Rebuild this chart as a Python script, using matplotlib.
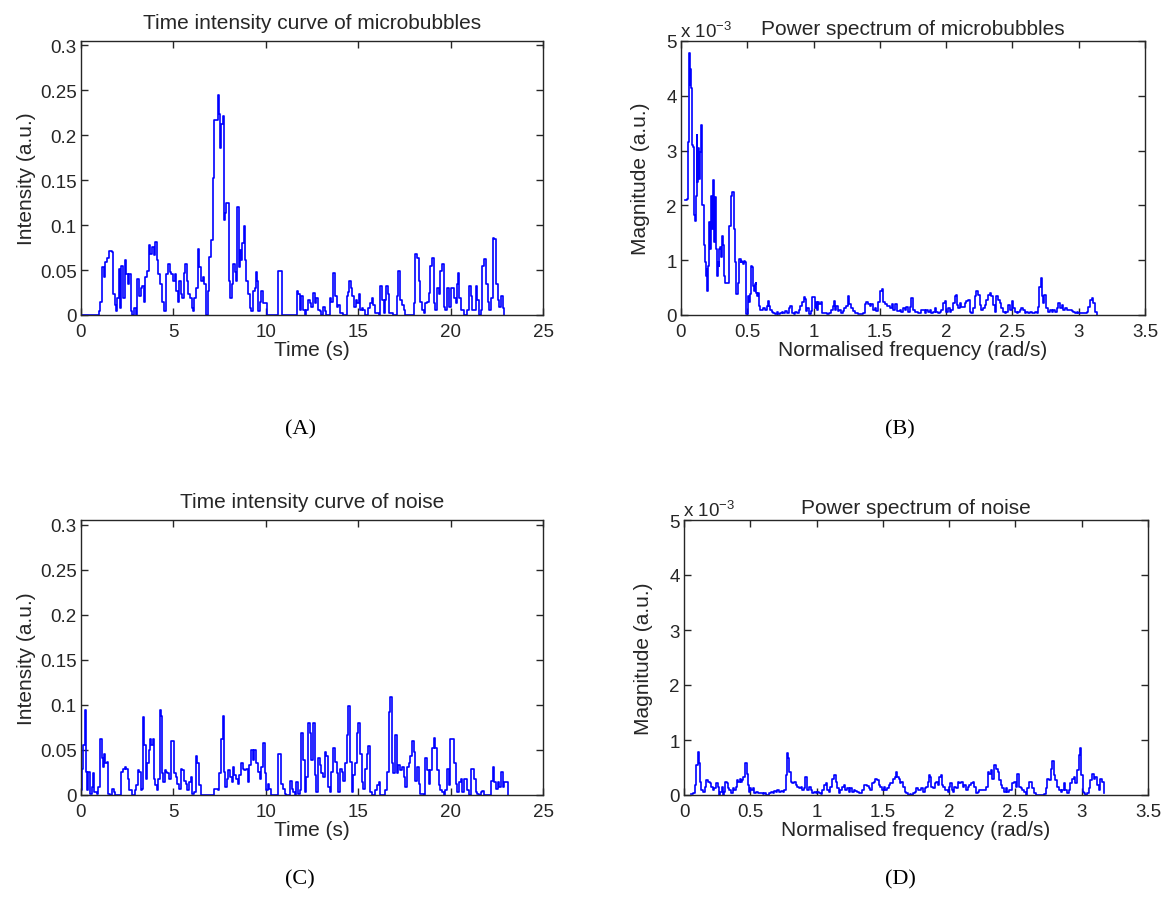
import matplotlib
matplotlib.use("Agg")
import matplotlib.pyplot as plt
import numpy as np

plt.rcParams['font.family'] = ['Liberation Sans', 'DejaVu Sans']

# ---------------- Data ----------------
# (A) Time intensity curve of microbubbles
tic_mb_time = [
    0, 0.9, 0.95, 1.04, 1.13, 1.22, 1.31, 1.40, 1.49, 1.67,
    1.73, 1.82, 1.89, 1.95, 2.04, 2.09, 2.18, 2.27, 2.36, 2.44,
    2.53, 2.62, 2.71, 2.76, 2.85, 2.95, 3.04, 3.13, 3.22, 3.31,
    3.40, 3.49, 3.58, 3.67, 3.76, 3.85, 3.95, 4.00, 4.09, 4.18,
    4.27, 4.36, 4.49, 4.62, 4.71, 4.80, 4.89, 4.98, 5.07, 5.16,
    5.24, 5.31, 5.40, 5.49, 5.58, 5.64, 5.71, 5.80, 5.89, 5.98,
    6.07, 6.13, 6.22, 6.31, 6.40, 6.49, 6.58, 6.67, 6.76, 6.85,
    6.95, 7.04, 7.13, 7.22, 7.31, 7.40, 7.45, 7.53, 7.58, 7.67,
    7.73, 7.80, 7.85, 7.95, 8.00, 8.07, 8.15, 8.22, 8.31, 8.40,
    8.45, 8.53, 8.58, 8.67, 8.73, 8.80, 8.85, 8.95, 9.04, 9.13,
    9.22, 9.31, 9.40, 9.45, 9.53, 9.60, 9.67, 9.76, 9.84, 9.95,
    10.04, 10.62, 10.67, 10.82, 10.85, 11.60, 11.67, 11.76, 11.85, 11.92,
    12.01, 12.10, 12.19, 12.28, 12.37, 12.47, 12.56, 12.65, 12.74, 12.83,
    12.92, 13.01, 13.10, 13.19, 13.28, 13.46, 13.55, 13.64, 13.74, 13.83,
    13.92, 14.01, 14.19, 14.37, 14.46, 14.52, 14.59, 14.68, 14.77, 14.86,
    14.95, 15.04, 15.10, 15.19, 15.28, 15.37, 15.55, 15.64, 15.73, 15.82,
    15.91, 16.10, 16.19, 16.28, 16.37, 16.46, 16.51, 16.59, 16.66, 16.91,
    17.09, 17.18, 17.27, 17.37, 17.46, 17.55, 17.91, 18.00, 18.09, 18.18,
    18.27, 18.36, 18.45, 18.55, 18.64, 18.73, 18.82, 18.91, 19.00, 19.09,
    19.18, 19.27, 19.36, 19.45, 19.54, 19.63, 19.72, 19.82, 19.91, 20.00,
    20.09, 20.18, 20.27, 20.36, 20.41, 20.48, 20.54, 20.72, 20.90, 21.00,
    21.09, 21.18, 21.36, 21.45, 21.54, 21.63, 21.72, 21.81, 21.90, 22.00,
    22.08, 22.17, 22.27, 22.36, 22.45, 22.54, 22.63, 22.72, 22.81, 22.90,
]
tic_mb_intensity = [
    0, 0, 0.004, 0.015, 0.053, 0.042, 0.059, 0.063, 0.071, 0.070,
    0.023, 0.011, 0.004, 0.019, 0.051, 0.008, 0.055, 0.019, 0.061, 0.046,
    0.034, 0.046, 0.004, 0, 0.008, 0, 0.040, 0.021, 0.030, 0.032,
    0.015, 0.042, 0.049, 0.078, 0.068, 0.076, 0.067, 0.081, 0.061, 0.046,
    0.034, 0.015, 0.004, 0.046, 0.057, 0.048, 0.046, 0.038, 0.046, 0.027,
    0.015, 0.038, 0.023, 0.019, 0.047, 0.057, 0.038, 0.023, 0.019, 0.008,
    0.004, 0.019, 0.030, 0.074, 0.053, 0.038, 0.042, 0.034, 0, 0.027,
    0.065, 0.084, 0.152, 0.217, 0.217, 0.245, 0.224, 0.186, 0.213, 0.222,
    0.106, 0.114, 0.125, 0.125, 0.038, 0.019, 0.034, 0.057, 0.048, 0.038,
    0.120, 0.053, 0.072, 0.061, 0.080, 0.099, 0.061, 0.038, 0.023, 0.008,
    0.004, 0.027, 0.030, 0.048, 0.038, 0.004, 0.015, 0.027, 0.013, 0.013,
    0, 0, 0.049, 0.049, 0, 0, 0.027, 0.023, 0.006, 0.021,
    0.006, 0, 0.006, 0.017, 0.013, 0.009, 0.025, 0.013, 0.019, 0.006,
    0.004, 0, 0.009, 0.004, 0, 0.019, 0.015, 0.047, 0.021, 0.009,
    0.011, 0.002, 0, 0.021, 0.026, 0.038, 0.030, 0.021, 0.009, 0.017,
    0.013, 0.023, 0.006, 0.008, 0.006, 0, 0.008, 0.013, 0.019, 0.011,
    0.002, 0, 0.032, 0.017, 0.002, 0.017, 0.032, 0.023, 0.002, 0,
    0.021, 0.049, 0.017, 0.011, 0.006, 0, 0, 0.013, 0.068, 0.064,
    0.038, 0.015, 0.006, 0.002, 0.013, 0.015, 0.025, 0.055, 0.064, 0.013,
    0.006, 0.030, 0.023, 0.049, 0.057, 0.009, 0.006, 0.030, 0.009, 0.030,
    0.030, 0.019, 0.013, 0.034, 0.047, 0.019, 0.006, 0, 0.006, 0.032,
    0.021, 0.006, 0.032, 0.017, 0, 0.006, 0.055, 0.062, 0.034, 0.015,
    0.006, 0.019, 0.086, 0.085, 0.034, 0.017, 0.009, 0.021, 0.008, 0,
]

# (C) Time intensity curve of noise
tic_noise_time = [
    0.0, 0.07, 0.13, 0.22, 0.27, 0.31, 0.40, 0.49, 0.58, 0.67,
    0.73, 0.85, 0.94, 1.03, 1.13, 1.18, 1.25, 1.31, 1.40, 1.45,
    1.58, 1.67, 1.76, 1.85, 2.12, 2.18, 2.27, 2.36, 2.45, 2.52,
    2.61, 2.76, 2.90, 2.98, 3.07, 3.16, 3.23, 3.30, 3.36, 3.43,
    3.52, 3.59, 3.67, 3.72, 3.79, 3.88, 3.96, 4.03, 4.10, 4.17,
    4.26, 4.34, 4.39, 4.46, 4.54, 4.61, 4.68, 4.75, 4.85, 4.97,
    5.05, 5.12, 5.19, 5.30, 5.39, 5.48, 5.57, 5.66, 5.75, 5.84,
    5.93, 6.03, 6.12, 6.21, 6.30, 6.39, 6.48, 7.17, 7.21, 7.33,
    7.42, 7.48, 7.57, 7.66, 7.73, 7.80, 7.88, 7.97, 8.06, 8.15,
    8.20, 8.29, 8.38, 8.48, 8.57, 8.66, 8.75, 8.84, 8.93, 9.02,
    9.11, 9.20, 9.29, 9.38, 9.47, 9.56, 9.66, 9.75, 9.84, 9.93,
    10.02, 10.11, 10.20, 10.29, 10.60, 10.65, 10.74, 10.83, 10.92, 11.02,
    11.11, 11.25, 11.32, 11.40, 11.47, 11.56, 11.65, 11.74, 11.83, 11.92,
    12.01, 12.10, 12.19, 12.28, 12.37, 12.47, 12.56, 12.65, 12.74, 12.83,
    12.92, 13.01, 13.10, 13.19, 13.28, 13.37, 13.46, 13.55, 13.64, 13.74,
    13.83, 13.92, 14.01, 14.10, 14.19, 14.28, 14.37, 14.46, 14.55, 14.64,
    14.73, 14.82, 14.92, 15.01, 15.10, 15.19, 15.28, 15.37, 15.46, 15.55,
    15.64, 15.73, 15.91, 16.00, 16.10, 16.19, 16.46, 16.55, 16.64, 16.73,
    16.82, 16.91, 17.00, 17.09, 17.18, 17.27, 17.37, 17.46, 17.55, 17.64,
    17.73, 17.82, 17.91, 18.00, 18.09, 18.18, 18.27, 18.36, 18.55, 18.64,
    18.73, 18.82, 18.91, 19.00, 19.09, 19.18, 19.27, 19.36, 19.45, 19.54,
    19.63, 19.72, 19.82, 19.91, 19.96, 20.09, 20.18, 20.27, 20.36, 20.45,
    20.54, 20.63, 20.72, 20.81, 20.90, 21.00, 21.09, 21.18, 21.27, 21.36,
    21.45, 21.54, 21.63, 21.72, 21.81, 22.08, 22.17, 22.27, 22.36, 22.45,
    22.54, 22.63, 22.72, 22.81, 22.90, 23.00, 23.08,
]
tic_noise_intensity = [
    0.005, 0.029, 0.056, 0.094, 0.026, 0.005, 0.026, 0.001, 0.009, 0.024,
    0.003, 0.001, 0.009, 0.062, 0.041, 0.031, 0.046, 0.035, 0.037, 0.001,
    0, 0.007, 0.003, 0, 0, 0.026, 0.029, 0.031, 0.029, 0.018,
    0.005, 0, 0.005, 0.011, 0.028, 0.026, 0.005, 0.007, 0.086, 0.056,
    0.018, 0.035, 0.050, 0.062, 0.056, 0.062, 0.018, 0.011, 0.005, 0.018,
    0.094, 0.088, 0.024, 0.014, 0.028, 0.026, 0.024, 0.018, 0.060, 0.060,
    0.024, 0.020, 0.012, 0.007, 0.029, 0.028, 0.016, 0.012, 0.005, 0.014,
    0.020, 0.001, 0.003, 0.043, 0.035, 0.011, 0, 0, 0.007, 0.007,
    0.005, 0.024, 0.062, 0.088, 0.026, 0.009, 0.018, 0.028, 0.020, 0.014,
    0.031, 0.022, 0.018, 0.012, 0.022, 0.035, 0.029, 0.028, 0.029, 0.014,
    0.033, 0.050, 0.039, 0.050, 0.035, 0.026, 0.018, 0.031, 0.058, 0.024,
    0.005, 0.012, 0.007, 0, 0, 0.046, 0.046, 0.012, 0.007, 0.001,
    0, 0, 0.016, 0.007, 0.003, 0, 0.014, 0.001, 0.005, 0.069,
    0.039, 0.003, 0.020, 0.080, 0.069, 0.039, 0.080, 0.022, 0.003, 0.041,
    0.033, 0.024, 0.020, 0.048, 0.043, 0.009, 0.003, 0.026, 0.052, 0.037,
    0.024, 0.003, 0.029, 0.026, 0.016, 0.035, 0.067, 0.099, 0.037, 0.003,
    0.022, 0.035, 0.069, 0.080, 0.046, 0.014, 0.007, 0.029, 0.046, 0.054,
    0.003, 0, 0.005, 0.011, 0.014, 0, 0.005, 0.026, 0.092, 0.109,
    0.035, 0.024, 0.067, 0.024, 0.033, 0.028, 0.031, 0.020, 0.009, 0.031,
    0.035, 0.043, 0.060, 0.048, 0.016, 0.031, 0.012, 0.001, 0, 0.041,
    0.028, 0.012, 0.028, 0.052, 0.063, 0.052, 0.028, 0.011, 0.005, 0.003,
    0, 0.005, 0.029, 0.011, 0.062, 0.062, 0.035, 0.012, 0.003, 0.014,
    0.018, 0.003, 0.018, 0.018, 0.005, 0, 0.029, 0.029, 0.018, 0.003,
    0.001, 0, 0.003, 0.004, 0, 0, 0.016, 0.031, 0.014, 0.007,
    0.014, 0.009, 0.026, 0.009, 0.014, 0.014, 0,
]

# (B) Power spectrum of microbubbles  (magnitude in units of 1e-3)
ps_mb_freq = [
    0.033, 0.046, 0.051, 0.059, 0.066, 0.071, 0.079, 0.084, 0.092, 0.097,
    0.105, 0.110, 0.117, 0.122, 0.130, 0.135, 0.143, 0.148, 0.156, 0.161,
    0.168, 0.173, 0.181, 0.186, 0.194, 0.199, 0.207, 0.212, 0.219, 0.224,
    0.232, 0.237, 0.245, 0.250, 0.258, 0.263, 0.270, 0.276, 0.283, 0.288,
    0.296, 0.301, 0.309, 0.314, 0.321, 0.327, 0.334, 0.347, 0.360, 0.365,
    0.372, 0.378, 0.385, 0.390, 0.398, 0.403, 0.411, 0.416, 0.423, 0.429,
    0.436, 0.441, 0.449, 0.454, 0.462, 0.467, 0.474, 0.480, 0.487, 0.492,
    0.500, 0.505, 0.513, 0.518, 0.526, 0.531, 0.538, 0.543, 0.551, 0.556,
    0.564, 0.569, 0.577, 0.582, 0.589, 0.594, 0.607, 0.620, 0.633, 0.645,
    0.658, 0.666, 0.671, 0.684, 0.696, 0.709, 0.722, 0.735, 0.747, 0.760,
    0.773, 0.786, 0.798, 0.811, 0.824, 0.837, 0.849, 0.862, 0.875, 0.888,
    0.901, 0.913, 0.926, 0.939, 0.946, 0.952, 0.964, 0.977, 0.990, 1.003,
    1.010, 1.015, 1.023, 1.033, 1.041, 1.054, 1.066, 1.079, 1.105, 1.117,
    1.130, 1.143, 1.156, 1.163, 1.168, 1.181, 1.194, 1.207, 1.219, 1.232,
    1.245, 1.258, 1.270, 1.283, 1.296, 1.309, 1.334, 1.360, 1.372, 1.385,
    1.398, 1.411, 1.423, 1.436, 1.449, 1.462, 1.474, 1.487, 1.500, 1.513,
    1.526, 1.538, 1.551, 1.564, 1.577, 1.589, 1.602, 1.615, 1.628, 1.649,
    1.662, 1.674, 1.687, 1.699, 1.712, 1.725, 1.737, 1.750, 1.762, 1.775,
    1.788, 1.800, 1.813, 1.825, 1.838, 1.851, 1.863, 1.876, 1.888, 1.901,
    1.913, 1.926, 1.939, 1.951, 1.964, 1.976, 1.989, 2.002, 2.014, 2.027,
    2.039, 2.052, 2.065, 2.072, 2.082, 2.090, 2.102, 2.115, 2.128, 2.140,
    2.153, 2.165, 2.178, 2.191, 2.203, 2.216, 2.228, 2.241, 2.254, 2.266,
    2.279, 2.291, 2.304, 2.317, 2.329, 2.342, 2.354, 2.367, 2.379, 2.392,
    2.405, 2.417, 2.430, 2.442, 2.455, 2.468, 2.480, 2.493, 2.505, 2.518,
    2.531, 2.543, 2.556, 2.568, 2.581, 2.594, 2.606, 2.619, 2.631, 2.644,
    2.657, 2.669, 2.682, 2.694, 2.702, 2.712, 2.720, 2.732, 2.740, 2.750,
    2.757, 2.770, 2.783, 2.795, 2.808, 2.820, 2.833, 2.846, 2.858, 2.871,
    2.883, 2.896, 2.908, 2.921, 2.934, 2.946, 2.959, 2.971, 2.984, 2.997,
    3.009, 3.022, 3.034, 3.047, 3.060, 3.072, 3.085, 3.097, 3.110, 3.123,
    3.135, 3.140,
]
ps_mb_mag = [
    2.09, 2.12, 3.16, 4.78, 4.20, 4.48, 4.14, 3.10, 3.07, 1.82,
    1.72, 2.18, 3.28, 2.43, 3.04, 2.49, 2.98, 3.47, 2.92, 2.00,
    2.00, 1.27, 0.96, 0.72, 0.84, 0.44, 0.90, 1.69, 1.20, 2.18,
    1.76, 1.57, 2.46, 1.33, 2.15, 1.20, 0.72, 0.96, 0.90, 1.20,
    1.24, 1.05, 1.45, 1.27, 0.87, 0.72, 0.59, 0.59, 0.90, 1.63,
    1.63, 2.18, 2.24, 2.24, 1.60, 1.57, 0.96, 0.38, 0.38, 0.59,
    0.78, 1.02, 0.96, 0.99, 0.96, 0.93, 0.99, 0.96, 0.35, 0.01,
    0.01, 0.35, 0.23, 0.38, 0.65, 0.90, 0.87, 0.53, 0.44, 0.56,
    0.59, 0.41, 0.35, 0.41, 0.17, 0.10, 0.10, 0.13, 0.10, 0.17,
    0.26, 0.17, 0.10, 0.06, 0.04, 0.01, 0.06, 0.01, 0.04, 0.06,
    0.04, 0.07, 0.04, 0.13, 0.17, 0.04, 0.01, 0.06, 0.04, 0.10,
    0.17, 0.23, 0.32, 0.29, 0.07, 0.13, 0.01, 0.07, 0.32, 0.32,
    0.13, 0.23, 0.10, 0.23, 0.20, 0.23, 0.04, 0.04, 0.01, 0.04,
    0.10, 0.17, 0.26, 0.10, 0.17, 0.07, 0.10, 0.04, 0.07, 0.13,
    0.17, 0.35, 0.20, 0.13, 0.07, 0.04, 0.01, 0.01, 0.04, 0.20,
    0.23, 0.20, 0.17, 0.20, 0.10, 0.13, 0.07, 0.23, 0.44, 0.47,
    0.23, 0.20, 0.17, 0.17, 0.13, 0.20, 0.10, 0.20, 0.07, 0.09,
    0.06, 0.12, 0.09, 0.15, 0.06, 0.15, 0.31, 0.09, 0.06, 0.06,
    0.03, 0.03, 0.09, 0.09, 0.03, 0.09, 0.06, 0.10, 0.04, 0.06,
    0.12, 0.06, 0.03, 0.06, 0.09, 0.21, 0.25, 0.06, 0.12, 0.06,
    0.09, 0.21, 0.34, 0.37, 0.18, 0.12, 0.21, 0.15, 0.15, 0.21,
    0.25, 0.28, 0.06, 0.03, 0.12, 0.34, 0.43, 0.37, 0.18, 0.09,
    0.12, 0.18, 0.28, 0.37, 0.40, 0.34, 0.18, 0.06, 0.34, 0.28,
    0.21, 0.12, 0.06, 0.04, 0.06, 0.18, 0.09, 0.25, 0.12, 0.06,
    0.03, 0.06, 0.09, 0.12, 0.09, 0.03, 0.06, 0.04, 0.06, 0.03,
    0.04, 0.06, 0.03, 0.15, 0.52, 0.67, 0.34, 0.21, 0.37, 0.28,
    0.12, 0.06, 0.09, 0.06, 0.09, 0.06, 0.12, 0.21, 0.12, 0.18,
    0.09, 0.12, 0.09, 0.09, 0.09, 0.07, 0.06, 0.03, 0.06, 0.03,
    0.04, 0.03, 0.04, 0.03, 0.06, 0.15, 0.28, 0.31, 0.21, 0.06,
    0.03, 0.0,
]

# (D) Power spectrum of noise  (magnitude in units of 1e-3)
ps_noise_freq = [
    0.055, 0.068, 0.080, 0.093, 0.105, 0.113, 0.118, 0.130, 0.143, 0.155,
    0.168, 0.180, 0.193, 0.205, 0.218, 0.230, 0.243, 0.255, 0.263, 0.275,
    0.285, 0.293, 0.305, 0.313, 0.323, 0.330, 0.343, 0.355, 0.368, 0.380,
    0.393, 0.400, 0.410, 0.420, 0.430, 0.438, 0.445, 0.455, 0.463, 0.473,
    0.480, 0.488, 0.498, 0.505, 0.518, 0.530, 0.543, 0.555, 0.568, 0.580,
    0.593, 0.605, 0.618, 0.643, 0.655, 0.668, 0.680, 0.693, 0.705, 0.718,
    0.730, 0.743, 0.755, 0.768, 0.775, 0.780, 0.788, 0.795, 0.805, 0.818,
    0.830, 0.843, 0.855, 0.868, 0.880, 0.893, 0.905, 0.913, 0.923, 0.930,
    0.943, 0.955, 0.968, 0.980, 0.993, 1.005, 1.018, 1.030, 1.043, 1.055,
    1.068, 1.080, 1.093, 1.105, 1.118, 1.130, 1.143, 1.155, 1.168, 1.180,
    1.193, 1.205, 1.218, 1.230, 1.243, 1.255, 1.268, 1.280, 1.293, 1.305,
    1.318, 1.330, 1.343, 1.355, 1.368, 1.380, 1.393, 1.405, 1.418, 1.430,
    1.443, 1.455, 1.468, 1.480, 1.493, 1.505, 1.518, 1.530, 1.543, 1.555,
    1.568, 1.580, 1.593, 1.600, 1.610, 1.618, 1.627, 1.640, 1.652, 1.665,
    1.677, 1.690, 1.702, 1.715, 1.727, 1.740, 1.752, 1.765, 1.777, 1.790,
    1.802, 1.815, 1.827, 1.840, 1.847, 1.857, 1.865, 1.877, 1.890, 1.902,
    1.915, 1.927, 1.935, 1.945, 1.952, 1.965, 1.977, 1.990, 2.002, 2.010,
    2.020, 2.027, 2.040, 2.052, 2.065, 2.077, 2.090, 2.102, 2.115, 2.127,
    2.140, 2.152, 2.165, 2.177, 2.190, 2.202, 2.215, 2.227, 2.240, 2.252,
    2.265, 2.277, 2.290, 2.302, 2.315, 2.327, 2.340, 2.352, 2.365, 2.377,
    2.390, 2.402, 2.415, 2.427, 2.440, 2.452, 2.465, 2.477, 2.490, 2.502,
    2.515, 2.527, 2.540, 2.552, 2.565, 2.577, 2.590, 2.602, 2.615, 2.627,
    2.640, 2.652, 2.677, 2.702, 2.715, 2.727, 2.740, 2.752, 2.765, 2.777,
    2.790, 2.802, 2.815, 2.827, 2.840, 2.852, 2.865, 2.877, 2.890, 2.902,
    2.915, 2.927, 2.940, 2.952, 2.965, 2.977, 2.990, 2.997, 3.007, 3.015,
    3.027, 3.040, 3.052, 3.065, 3.077, 3.090, 3.102, 3.115, 3.127, 3.140,
    3.152, 3.165,
]
ps_noise_mag = [
    0.01, 0.03, 0.18, 0.55, 0.79, 0.58, 0.24, 0.09, 0.06, 0.15,
    0.27, 0.24, 0.21, 0.15, 0.09, 0.12, 0.21, 0.15, 0, 0.06,
    0.15, 0, 0.06, 0.24, 0.21, 0.12, 0.09, 0.03, 0.12, 0.09,
    0.15, 0.27, 0.24, 0.30, 0.24, 0.27, 0.33, 0.33, 0.58, 0.39,
    0.18, 0.06, 0.12, 0.09, 0.13, 0.03, 0.06, 0.03, 0.04, 0.03,
    0.01, 0.03, 0, 0.03, 0.06, 0.04, 0.07, 0.06, 0.09, 0.05,
    0.07, 0.06, 0.09, 0.36, 0.48, 0.76, 0.67, 0.42, 0.24, 0.21,
    0.24, 0.18, 0.15, 0.12, 0.15, 0.09, 0.12, 0.33, 0.33, 0.09,
    0.15, 0.09, 0.03, 0.06, 0.03, 0.06, 0.03, 0.01, 0.09, 0.18,
    0.21, 0.09, 0.06, 0.15, 0.30, 0.36, 0.24, 0.12, 0.03, 0.09,
    0.15, 0.18, 0.09, 0.12, 0.06, 0.12, 0.06, 0.09, 0.07, 0.06,
    0.03, 0.03, 0.09, 0.18, 0.18, 0.17, 0.12, 0.09, 0.21, 0.24,
    0.30, 0.27, 0.18, 0.15, 0.09, 0.15, 0.09, 0.12, 0.18, 0.21,
    0.21, 0.30, 0.33, 0.42, 0.33, 0.30, 0.21, 0.24, 0.15, 0.06,
    0.03, 0, 0.01, 0, 0.03, 0.06, 0.12, 0.09, 0.09, 0.12,
    0.06, 0.12, 0.15, 0.24, 0.36, 0.33, 0.15, 0.12, 0.21, 0.24,
    0.18, 0.33, 0.36, 0.18, 0.15, 0.09, 0.09, 0.06, 0.15, 0.21,
    0.09, 0.06, 0.15, 0.12, 0.24, 0.21, 0.24, 0.15, 0.18, 0.09,
    0.15, 0.18, 0.21, 0.24, 0.15, 0.03, 0.06, 0.09, 0.10, 0.09,
    0.09, 0.15, 0.42, 0.39, 0.45, 0.30, 0.55, 0.48, 0.42, 0.27,
    0.18, 0.12, 0.06, 0.12, 0.06, 0.09, 0.09, 0.21, 0.24, 0.15,
    0.39, 0.15, 0.12, 0.09, 0.06, 0, 0.12, 0.24, 0.24, 0.12,
    0.03, 0, 0, 0, 0.01, 0.12, 0.30, 0.27, 0.48, 0.61,
    0.36, 0.27, 0.15, 0.09, 0.06, 0.09, 0.21, 0.09, 0.03, 0.09,
    0.21, 0.30, 0.33, 0.21, 0.45, 0.73, 0.85, 0.36, 0.06, 0.03,
    0, 0.03, 0.12, 0.27, 0.39, 0.30, 0.33, 0.18, 0.09, 0.30,
    0.24, 0.03,
]

tic_yticks = [0, 0.05, 0.1, 0.15, 0.2, 0.25, 0.3]
tic_yticklabels = ['0', '0.05', '0.1', '0.15', '0.2', '0.25', '0.3']
tic_xticks = [0, 5, 10, 15, 20, 25]
ps_xticks = [0, 0.5, 1, 1.5, 2, 2.5, 3, 3.5]
ps_xticklabels = ['0', '0.5', '1', '1.5', '2', '2.5', '3', '3.5']
ps_yticks = [0, 1, 2, 3, 4, 5]

titles = ['Time intensity curve of microbubbles', 'Power spectrum of microbubbles',
          'Time intensity curve of noise', 'Power spectrum of noise']
panel_labels = ['(A)', '(B)', '(C)', '(D)']

# ---------------- Figure ----------------
W, H = 1172, 904
fig = plt.figure(figsize=(W / 100, H / 100), dpi=100)

def px_axes(l, t, r, b):
    return fig.add_axes([l / W, 1 - b / H, (r - l) / W, (b - t) / H])

LINE = '#0000ff'
TXT = '#262626'
TITLE_FS = 15
LABEL_FS = 15
TICK_FS = 13.5

def style(ax):
    for s in ax.spines.values():
        s.set_color(TXT)
        s.set_linewidth(1.0)
    ax.tick_params(direction='in', length=5, width=1.0, top=True, right=True,
                   labelsize=TICK_FS, colors=TXT)
    ax.tick_params(axis='x', pad=6)
    ax.tick_params(axis='y', pad=3)

axA = px_axes(81, 42, 543, 316)
axB = px_axes(681, 42, 1145, 316)
axC = px_axes(81, 521, 543, 796)
axD = px_axes(684, 521, 1148, 796)

for ax, t, v in [(axA, tic_mb_time, tic_mb_intensity), (axC, tic_noise_time, tic_noise_intensity)]:
    ax.plot(t, v, color=LINE, lw=1.2, drawstyle='steps-post')
    ax.set_xlim(0, 25)
    ax.set_ylim(0, 0.305)
    ax.set_xticks(tic_xticks)
    ax.set_yticks(tic_yticks)
    ax.set_yticklabels(tic_yticklabels)
    ax.set_xlabel('Time (s)', fontsize=LABEL_FS, labelpad=0, color=TXT)
    ax.set_ylabel('Intensity (a.u.)', fontsize=LABEL_FS, labelpad=3, color=TXT)
    style(ax)

for ax, f, m in [(axB, ps_mb_freq, ps_mb_mag), (axD, ps_noise_freq, ps_noise_mag)]:
    ax.plot(f, m, color=LINE, lw=1.2, drawstyle='steps-post')
    ax.set_xlim(0, 3.5)
    ax.set_ylim(0, 5)
    ax.set_xticks(ps_xticks)
    ax.set_xticklabels(ps_xticklabels)
    ax.set_yticks(ps_yticks)
    ax.set_xlabel('Normalised frequency (rad/s)', fontsize=LABEL_FS, labelpad=0, color=TXT)
    ax.set_ylabel('Magnitude (a.u.)', fontsize=LABEL_FS, labelpad=12, color=TXT)
    ax.text(-0.003, 1.0, r'x 10$^{\mathregular{-3}}$', transform=ax.transAxes,
            fontsize=TICK_FS, ha='left', va='bottom', color=TXT)
    style(ax)

axA.set_title(titles[0], fontsize=TITLE_FS, pad=9, color=TXT)
axB.set_title(titles[1], fontsize=TITLE_FS, pad=5, color=TXT)
axC.set_title(titles[2], fontsize=TITLE_FS, pad=9, color=TXT)
axD.set_title(titles[3], fontsize=TITLE_FS, pad=5, color=TXT)

for (x, y), lab in zip([(300, 430), (900, 430), (300, 880), (900, 880)], panel_labels):
    fig.text(x / W, 1 - y / H, lab, ha='center', va='center', fontsize=16,
             family=['Liberation Serif', 'DejaVu Serif'])

fig.savefig('out.png', dpi=100)
